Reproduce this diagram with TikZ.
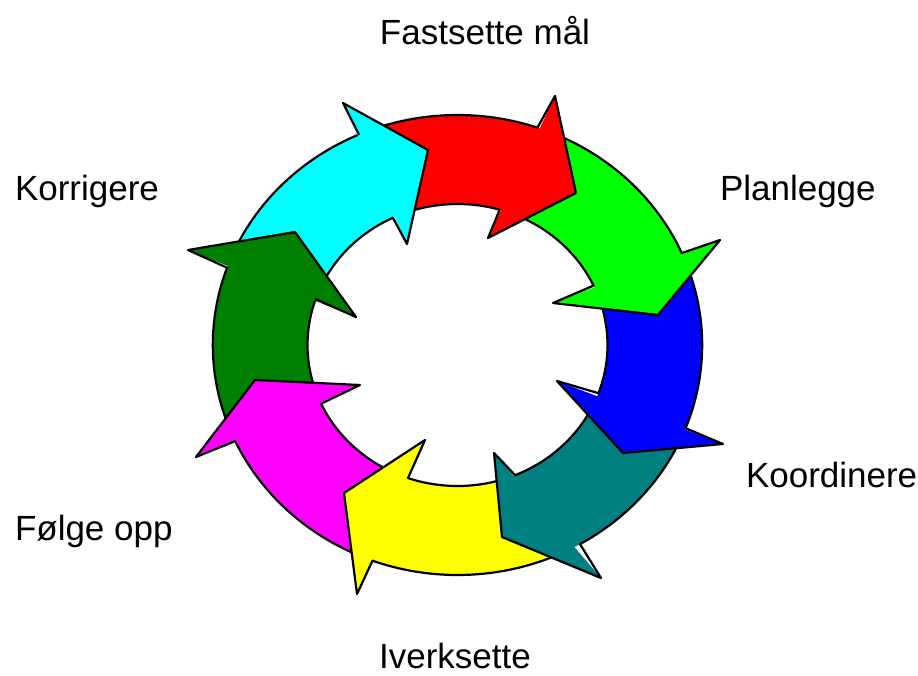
\documentclass[tikz,border=0pt]{standalone}
\usepackage{fontspec}
\setmainfont{Liberation Sans}
\definecolor{cRed}{HTML}{FF0000}
\definecolor{cGreen}{HTML}{00FF00}
\definecolor{cBlue}{HTML}{0000FF}
\definecolor{cTeal}{HTML}{008080}
\definecolor{cYellow}{HTML}{FFFF00}
\definecolor{cMagenta}{HTML}{FF00FF}
\definecolor{cDkGreen}{HTML}{008000}
\definecolor{cCyan}{HTML}{00FFFF}
\tikzset{
  outl/.style={draw=black, line width=2.2pt, line join=round, line cap=round},
  lbl/.style={inner sep=0pt, outer sep=0pt, font=\fontsize{35}{42}\selectfont},
}
% body of one ring arrow: colour, outer start, outer end, inner start, inner end (angles)
\newcommand\ringbody[5]{%
  \pgfmathsetmacro\bOa{#2+3}\pgfmathsetmacro\bOb{#3+3}%
  \pgfmathsetmacro\bIa{#4+3}\pgfmathsetmacro\bIb{#5+3}%
  \begin{scope}[shift={(457.5,345)}]
    \fill[#1] (\bOa:244.7 and 230) arc[start angle=\bOa, end angle=\bOb, x radius=244.7, y radius=230]
      -- (\bIb:150 and 141) arc[start angle=\bIb, end angle=\bIa, x radius=150, y radius=141] -- cycle;
    \draw[outl] (\bOa:244.7 and 230) arc[start angle=\bOa, end angle=#3, x radius=244.7, y radius=230];
    \draw[outl] (\bIa:150 and 141) arc[start angle=\bIa, end angle=#5, x radius=150, y radius=141];
  \end{scope}}
% head: colour, outer base angle, inner base angle, outer barb, tip, inner barb
\newcommand\ringhead[6]{%
  \begin{scope}[shift={(457.5,345)}]
    \coordinate (hbo) at (#2:244.7 and 230);
    \coordinate (hbi) at (#3:150 and 141);
  \end{scope}
  \fill[#1] #4 -- #5 -- #6 -- cycle;
  \draw[outl] (hbo) -- #4 -- #5 -- #6 -- (hbi);}
\begin{document}
\begin{tikzpicture}[x=1pt,y=-1pt]
\useasboundingbox (0,0) rectangle (918,675);
\fill[white] (0,0) rectangle (918,675);
% bodies
\ringbody{cRed}{-113.76}{-70.93}{-115.5}{-73.65}
\ringbody{cGreen}{-70.93}{-23.56}{-73.65}{-24.91}
\ringbody{cBlue}{-23.56}{21.21}{-24.91}{19.98}
\ringbody{cTeal}{21.21}{59.96}{19.98}{67.44}
\ringbody{cYellow}{59.96}{110.33}{67.44}{109.27}
\ringbody{cMagenta}{110.33}{155.31}{109.27}{155.4}
\ringbody{cDkGreen}{155.31}{199.65}{155.4}{198.96}
\ringbody{cCyan}{199.65}{246.24}{198.96}{244.5}
% heads
\ringhead{cCyan}{246.24}{244.5}{(343,103)}{(428,150)}{(407,244)}
\ringhead{cRed}{-70.93}{-73.65}{(555,96)}{(576,193)}{(488,238)}
\ringhead{cGreen}{-23.56}{-24.91}{(720,240)}{(658,315)}{(553,303)}
\ringhead{cBlue}{21.21}{19.98}{(723,444)}{(623,453)}{(557,381)}
\ringhead{cTeal}{59.96}{67.44}{(601,578)}{(502,537)}{(494,453)}
\ringhead{cYellow}{110.33}{109.27}{(357,594)}{(344,493)}{(425,440)}
\ringhead{cMagenta}{155.31}{155.4}{(196,457)}{(255,380)}{(360,385)}
\ringhead{cDkGreen}{199.65}{198.96}{(188,250)}{(295,232)}{(356,317)}
% labels
\node[lbl, anchor=base] (fast) at (485,44) {Fastsette mål};
\node[lbl, anchor=base west] (plan) at (720,200) {Planlegge};
\node[lbl, anchor=base west] (koord) at (746,487) {Koordinere};
\node[lbl, anchor=base] (iverk) at (455,668) {Iverksette};
\node[lbl, anchor=base west] (folge) at (15,540) {Følge opp};
\node[lbl, anchor=base west] (korr) at (15,200) {Korrigere};
\end{tikzpicture}
\end{document}
